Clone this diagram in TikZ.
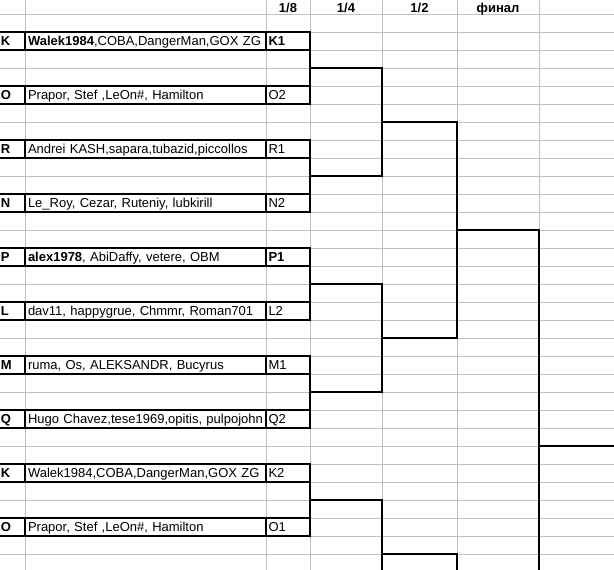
\documentclass[tikz,border=0pt]{standalone}
\usepackage{fontspec}
\setmainfont{Liberation Sans}
\usetikzlibrary{calc}
\definecolor{gridc}{HTML}{C0C0C0}
\begin{document}
\begin{tikzpicture}[x=1pt,y=-1pt,
  font=\fontsize{13}{15}\selectfont,
  gridline/.style={draw=gridc,line width=1pt},
  brk/.style={draw=black,line width=2pt},
  cellbox/.style={draw=black,line width=2pt,anchor=north west,inner ysep=0pt,outer sep=0pt,
    minimum height=18pt,text height=9.3pt,text depth=0pt,align=left},
  lcell/.style={cellbox,inner xsep=3pt,text width=21pt,font=\fontsize{13}{15}\selectfont\bfseries},
  ncell/.style={cellbox,inner xsep=3pt,text width=235pt},
  scell/.style={cellbox,inner xsep=2.5pt,text width=39pt},
  hdr/.style={font=\fontsize{13}{15}\selectfont\bfseries,inner sep=0pt,text height=9.3pt,text depth=0pt}]
\useasboundingbox (0,0) rectangle (614,570);
\fill[white] (0,0) rectangle (614,570);
% grid
\foreach \y in {14,32,...,560} \draw[gridline] (0,\y) -- (614,\y);
\foreach \x in {25,266,310,382,457,539} \draw[gridline] (\x,0) -- (\x,570);
% headers
\node[hdr] (h8) at (288,7.5) {1/8};
\node[hdr] (h4) at (346,7.5) {1/4};
\node[hdr] (h2) at (419.5,7.5) {1/2};
\node[hdr] (hf) at (498,7.5) {финал};
% rows
\node[lcell] (a1) at (-2,32) {K};
\node[ncell] (n1) at (25,32) {\textbf{Walek1984},COBA,DangerMan,GOX ZG};
\node[scell] (s1) at (266,32) {\textbf{K1}};
\node[lcell] (a2) at (-2,86) {O};
\node[ncell] (n2) at (25,86) {Prapor, Stef ,LeOn\#, Hamilton};
\node[scell] (s2) at (266,86) {O2};
\node[lcell] (a3) at (-2,140) {R};
\node[ncell] (n3) at (25,140) {Andrei KASH,sapara,tubazid,piccollos};
\node[scell] (s3) at (266,140) {R1};
\node[lcell] (a4) at (-2,194) {N};
\node[ncell] (n4) at (25,194) {Le\_Roy, Cezar, Ruteniy, lubkirill};
\node[scell] (s4) at (266,194) {N2};
\node[lcell] (a5) at (-2,248) {P};
\node[ncell] (n5) at (25,248) {\textbf{alex1978}, AbiDaffy, vetere, OBM};
\node[scell] (s5) at (266,248) {\textbf{P1}};
\node[lcell] (a6) at (-2,302) {L};
\node[ncell] (n6) at (25,302) {dav11, happygrue, Chmmr, Roman701};
\node[scell] (s6) at (266,302) {L2};
\node[lcell] (a7) at (-2,356) {M};
\node[ncell] (n7) at (25,356) {ruma, Os, ALEKSANDR, Bucyrus};
\node[scell] (s7) at (266,356) {M1};
\node[lcell] (a8) at (-2,410) {Q};
\node[ncell] (n8) at (25,410) {Hugo Chavez,tese1969,opitis, pulpojohn};
\node[scell] (s8) at (266,410) {Q2};
\node[lcell] (a9) at (-2,464) {K};
\node[ncell] (n9) at (25,464) {Walek1984,COBA,DangerMan,GOX ZG};
\node[scell] (s9) at (266,464) {K2};
\node[lcell] (a10) at (-2,518) {O};
\node[ncell] (n10) at (25,518) {Prapor, Stef ,LeOn\#, Hamilton};
\node[scell] (s10) at (266,518) {O1};
% level 1 (1/8 pairs)
\draw[brk] (s1.north east) -- (s2.south east);
\draw[brk] (s3.north east) -- (s4.south east);
\draw[brk] (s5.north east) -- (s6.south east);
\draw[brk] (s7.north east) -- (s8.south east);
\draw[brk] (s9.north east) -- (s10.south east);
\coordinate (j1) at ($(s1.north east)!.5!(s2.south east)$);
\coordinate (j2) at ($(s3.north east)!.5!(s4.south east)$);
\coordinate (j3) at ($(s5.north east)!.5!(s6.south east)$);
\coordinate (j4) at ($(s7.north east)!.5!(s8.south east)$);
\coordinate (j5) at ($(s9.north east)!.5!(s10.south east)$);
% column x positions
\coordinate (xq) at (382,0);
\coordinate (xs) at (457,0);
\coordinate (xf) at (539,0);
% level 2 (1/4)
\coordinate (c1) at (j1 -| xq); \coordinate (c2) at (j2 -| xq);
\coordinate (c3) at (j3 -| xq); \coordinate (c4) at (j4 -| xq);
\coordinate (c5) at (j5 -| xq); \coordinate (c5o) at (382,585);
\draw[brk] (j1) -- (c1) -- (c2) -- (j2);
\draw[brk] (j3) -- (c3) -- (c4) -- (j4);
\draw[brk] (j5) -- (c5) -- (c5o);
% level 3 (1/2)
\coordinate (k1) at ($(c1)!.5!(c2)$); \coordinate (l1) at (k1 -| xs);
\coordinate (k2) at ($(c3)!.5!(c4)$); \coordinate (l2) at (k2 -| xs);
\coordinate (k3) at (382,554);       \coordinate (l3) at (k3 -| xs);
\coordinate (l3o) at (457,585);
\draw[brk] (k1) -- (l1) -- (l2) -- (k2);
\draw[brk] (k3) -- (l3) -- (l3o);
% final
\coordinate (m1) at ($(l1)!.5!(l2)$); \coordinate (f1) at (m1 -| xf);
\coordinate (fo) at (539,585);
\coordinate (fm) at (539,446); \coordinate (fe) at (625,446);
\draw[brk] (m1) -- (f1) -- (fo);
\draw[brk] (fm) -- (fe);
\end{tikzpicture}
\end{document}
